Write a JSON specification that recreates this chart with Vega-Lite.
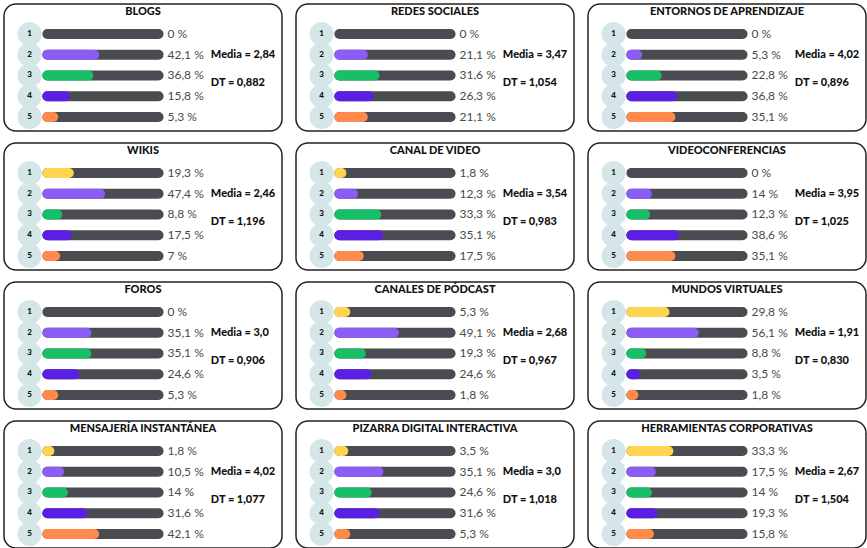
{
  "$schema": "https://vega.github.io/schema/vega-lite/v6.json",
  "padding": {"left": 3, "top": 3, "right": 0, "bottom": 0},
  "background": "white",
  "config": {
    "view": {"stroke": "#222222", "strokeWidth": 1.5, "cornerRadius": 12},
    "font": "Lato",
    "headerFacet": {"labels": false, "title": null, "labelPadding": 0, "titlePadding": 0, "labelExpr": "''", "labelFontSize": 0}
  },
  "spacing": {"row": 10, "column": 12},
  "columns": 3,
  "data": {"values": [
    {"p":"BLOGS","c":1,"v":0,"l":"0 %","m":"Media = 2,84","d":"DT = 0,882"},
    {"p":"BLOGS","c":2,"v":42.1,"l":"42,1 %","m":"Media = 2,84","d":"DT = 0,882"},
    {"p":"BLOGS","c":3,"v":36.8,"l":"36,8 %","m":"Media = 2,84","d":"DT = 0,882"},
    {"p":"BLOGS","c":4,"v":15.8,"l":"15,8 %","m":"Media = 2,84","d":"DT = 0,882"},
    {"p":"BLOGS","c":5,"v":5.3,"l":"5,3 %","m":"Media = 2,84","d":"DT = 0,882"},
    {"p":"REDES SOCIALES","c":1,"v":0,"l":"0 %","m":"Media = 3,47","d":"DT = 1,054"},
    {"p":"REDES SOCIALES","c":2,"v":21.1,"l":"21,1 %","m":"Media = 3,47","d":"DT = 1,054"},
    {"p":"REDES SOCIALES","c":3,"v":31.6,"l":"31,6 %","m":"Media = 3,47","d":"DT = 1,054"},
    {"p":"REDES SOCIALES","c":4,"v":26.3,"l":"26,3 %","m":"Media = 3,47","d":"DT = 1,054"},
    {"p":"REDES SOCIALES","c":5,"v":21.1,"l":"21,1 %","m":"Media = 3,47","d":"DT = 1,054"},
    {"p":"ENTORNOS DE APRENDIZAJE","c":1,"v":0,"l":"0 %","m":"Media = 4,02","d":"DT = 0,896"},
    {"p":"ENTORNOS DE APRENDIZAJE","c":2,"v":5.3,"l":"5,3 %","m":"Media = 4,02","d":"DT = 0,896"},
    {"p":"ENTORNOS DE APRENDIZAJE","c":3,"v":22.8,"l":"22,8 %","m":"Media = 4,02","d":"DT = 0,896"},
    {"p":"ENTORNOS DE APRENDIZAJE","c":4,"v":36.8,"l":"36,8 %","m":"Media = 4,02","d":"DT = 0,896"},
    {"p":"ENTORNOS DE APRENDIZAJE","c":5,"v":35.1,"l":"35,1 %","m":"Media = 4,02","d":"DT = 0,896"},
    {"p":"WIKIS","c":1,"v":19.3,"l":"19,3 %","m":"Media = 2,46","d":"DT = 1,196"},
    {"p":"WIKIS","c":2,"v":47.4,"l":"47,4 %","m":"Media = 2,46","d":"DT = 1,196"},
    {"p":"WIKIS","c":3,"v":8.8,"l":"8,8 %","m":"Media = 2,46","d":"DT = 1,196"},
    {"p":"WIKIS","c":4,"v":17.5,"l":"17,5 %","m":"Media = 2,46","d":"DT = 1,196"},
    {"p":"WIKIS","c":5,"v":7,"l":"7 %","m":"Media = 2,46","d":"DT = 1,196"},
    {"p":"CANAL DE VIDEO","c":1,"v":1.8,"l":"1,8 %","m":"Media = 3,54","d":"DT = 0,983"},
    {"p":"CANAL DE VIDEO","c":2,"v":12.3,"l":"12,3 %","m":"Media = 3,54","d":"DT = 0,983"},
    {"p":"CANAL DE VIDEO","c":3,"v":33.3,"l":"33,3 %","m":"Media = 3,54","d":"DT = 0,983"},
    {"p":"CANAL DE VIDEO","c":4,"v":35.1,"l":"35,1 %","m":"Media = 3,54","d":"DT = 0,983"},
    {"p":"CANAL DE VIDEO","c":5,"v":17.5,"l":"17,5 %","m":"Media = 3,54","d":"DT = 0,983"},
    {"p":"VIDEOCONFERENCIAS","c":1,"v":0,"l":"0 %","m":"Media = 3,95","d":"DT = 1,025"},
    {"p":"VIDEOCONFERENCIAS","c":2,"v":14,"l":"14 %","m":"Media = 3,95","d":"DT = 1,025"},
    {"p":"VIDEOCONFERENCIAS","c":3,"v":12.3,"l":"12,3 %","m":"Media = 3,95","d":"DT = 1,025"},
    {"p":"VIDEOCONFERENCIAS","c":4,"v":38.6,"l":"38,6 %","m":"Media = 3,95","d":"DT = 1,025"},
    {"p":"VIDEOCONFERENCIAS","c":5,"v":35.1,"l":"35,1 %","m":"Media = 3,95","d":"DT = 1,025"},
    {"p":"FOROS","c":1,"v":0,"l":"0 %","m":"Media = 3,0","d":"DT = 0,906"},
    {"p":"FOROS","c":2,"v":35.1,"l":"35,1 %","m":"Media = 3,0","d":"DT = 0,906"},
    {"p":"FOROS","c":3,"v":35.1,"l":"35,1 %","m":"Media = 3,0","d":"DT = 0,906"},
    {"p":"FOROS","c":4,"v":24.6,"l":"24,6 %","m":"Media = 3,0","d":"DT = 0,906"},
    {"p":"FOROS","c":5,"v":5.3,"l":"5,3 %","m":"Media = 3,0","d":"DT = 0,906"},
    {"p":"CANALES DE PÓDCAST","c":1,"v":5.3,"l":"5,3 %","m":"Media = 2,68","d":"DT = 0,967"},
    {"p":"CANALES DE PÓDCAST","c":2,"v":49.1,"l":"49,1 %","m":"Media = 2,68","d":"DT = 0,967"},
    {"p":"CANALES DE PÓDCAST","c":3,"v":19.3,"l":"19,3 %","m":"Media = 2,68","d":"DT = 0,967"},
    {"p":"CANALES DE PÓDCAST","c":4,"v":24.6,"l":"24,6 %","m":"Media = 2,68","d":"DT = 0,967"},
    {"p":"CANALES DE PÓDCAST","c":5,"v":1.8,"l":"1,8 %","m":"Media = 2,68","d":"DT = 0,967"},
    {"p":"MUNDOS VIRTUALES","c":1,"v":29.8,"l":"29,8 %","m":"Media = 1,91","d":"DT = 0,830"},
    {"p":"MUNDOS VIRTUALES","c":2,"v":56.1,"l":"56,1 %","m":"Media = 1,91","d":"DT = 0,830"},
    {"p":"MUNDOS VIRTUALES","c":3,"v":8.8,"l":"8,8 %","m":"Media = 1,91","d":"DT = 0,830"},
    {"p":"MUNDOS VIRTUALES","c":4,"v":3.5,"l":"3,5 %","m":"Media = 1,91","d":"DT = 0,830"},
    {"p":"MUNDOS VIRTUALES","c":5,"v":1.8,"l":"1,8 %","m":"Media = 1,91","d":"DT = 0,830"},
    {"p":"MENSAJERÍA INSTANTÁNEA","c":1,"v":1.8,"l":"1,8 %","m":"Media = 4,02","d":"DT = 1,077"},
    {"p":"MENSAJERÍA INSTANTÁNEA","c":2,"v":10.5,"l":"10,5 %","m":"Media = 4,02","d":"DT = 1,077"},
    {"p":"MENSAJERÍA INSTANTÁNEA","c":3,"v":14,"l":"14 %","m":"Media = 4,02","d":"DT = 1,077"},
    {"p":"MENSAJERÍA INSTANTÁNEA","c":4,"v":31.6,"l":"31,6 %","m":"Media = 4,02","d":"DT = 1,077"},
    {"p":"MENSAJERÍA INSTANTÁNEA","c":5,"v":42.1,"l":"42,1 %","m":"Media = 4,02","d":"DT = 1,077"},
    {"p":"PIZARRA DIGITAL INTERACTIVA","c":1,"v":3.5,"l":"3,5 %","m":"Media = 3,0","d":"DT = 1,018"},
    {"p":"PIZARRA DIGITAL INTERACTIVA","c":2,"v":35.1,"l":"35,1 %","m":"Media = 3,0","d":"DT = 1,018"},
    {"p":"PIZARRA DIGITAL INTERACTIVA","c":3,"v":24.6,"l":"24,6 %","m":"Media = 3,0","d":"DT = 1,018"},
    {"p":"PIZARRA DIGITAL INTERACTIVA","c":4,"v":31.6,"l":"31,6 %","m":"Media = 3,0","d":"DT = 1,018"},
    {"p":"PIZARRA DIGITAL INTERACTIVA","c":5,"v":5.3,"l":"5,3 %","m":"Media = 3,0","d":"DT = 1,018"},
    {"p":"HERRAMIENTAS CORPORATIVAS","c":1,"v":33.3,"l":"33,3 %","m":"Media = 2,67","d":"DT = 1,504"},
    {"p":"HERRAMIENTAS CORPORATIVAS","c":2,"v":17.5,"l":"17,5 %","m":"Media = 2,67","d":"DT = 1,504"},
    {"p":"HERRAMIENTAS CORPORATIVAS","c":3,"v":14,"l":"14 %","m":"Media = 2,67","d":"DT = 1,504"},
    {"p":"HERRAMIENTAS CORPORATIVAS","c":4,"v":19.3,"l":"19,3 %","m":"Media = 2,67","d":"DT = 1,504"},
    {"p":"HERRAMIENTAS CORPORATIVAS","c":5,"v":15.8,"l":"15,8 %","m":"Media = 2,67","d":"DT = 1,504"}
  ]},
  "facet": {
    "field": "p",
    "type": "nominal",
    "sort": ["BLOGS","REDES SOCIALES","ENTORNOS DE APRENDIZAJE","WIKIS","CANAL DE VIDEO","VIDEOCONFERENCIAS","FOROS","CANALES DE PÓDCAST","MUNDOS VIRTUALES","MENSAJERÍA INSTANTÁNEA","PIZARRA DIGITAL INTERACTIVA","HERRAMIENTAS CORPORATIVAS"],
    "header": {"labels": false, "title": null, "labelPadding": 0, "labelExpr": "''", "labelFontSize": 0}
  },
  "spec": {
    "width": 278,
    "height": 127,
    "layer": [
      {
        "mark": {"type": "point", "filled": true, "size": 580, "color": "#D5E6E8", "opacity": 1, "shape": "circle"},
        "encoding": {
          "x": {"datum": -16, "type": "quantitative", "scale": {"domain": [-39, 211], "zero": false, "nice": false}, "axis": null},
          "y": {"field": "c", "type": "quantitative", "scale": {"domain": [-0.45, 5.68], "reverse": true, "zero": false, "nice": false}, "axis": null}
        }
      },
      {
        "mark": {"type": "text", "font": "Lato", "fontWeight": 900, "fontSize": 8, "color": "#111111"},
        "encoding": {
          "x": {"datum": -16, "type": "quantitative"},
          "y": {"field": "c", "type": "quantitative"},
          "text": {"field": "c", "type": "nominal"}
        }
      },
      {
        "mark": {"type": "rule", "strokeWidth": 10, "strokeCap": "round", "color": "#4A4C51"},
        "encoding": {
          "x": {"datum": 0, "type": "quantitative"},
          "x2": {"datum": 100, "type": "quantitative"},
          "y": {"field": "c", "type": "quantitative"}
        }
      },
      {
        "transform": [{"filter": "datum.v > 0"}],
        "mark": {"type": "rule", "strokeWidth": 10, "strokeCap": "round"},
        "encoding": {
          "x": {"field": "v", "type": "quantitative"},
          "x2": {"datum": 0, "type": "quantitative"},
          "y": {"field": "c", "type": "quantitative"},
          "color": {"field": "c", "type": "nominal", "scale": {"domain": [1,2,3,4,5], "range": ["#FFD54F","#8B5CF6","#17BF69","#5A1FE3","#FF8A4C"]}, "legend": null}
        }
      },
      {
        "mark": {"type": "text", "align": "left", "font": "Lato", "fontSize": 12, "color": "#4A4A4A"},
        "encoding": {
          "x": {"datum": 108, "type": "quantitative"},
          "y": {"field": "c", "type": "quantitative"},
          "text": {"field": "l", "type": "nominal"}
        }
      },
      {
        "transform": [{"filter": "datum.c == 1"}],
        "mark": {"type": "text", "align": "center", "font": "Lato", "fontWeight": 900, "fontSize": 11, "color": "#111111"},
        "encoding": {
          "x": {"datum": 86, "type": "quantitative"},
          "y": {"datum": -0.08, "type": "quantitative"},
          "text": {"field": "p", "type": "nominal"}
        }
      },
      {
        "transform": [{"filter": "datum.c == 1"}],
        "mark": {"type": "text", "align": "left", "font": "Lato", "fontWeight": 900, "fontSize": 11, "color": "#111111"},
        "encoding": {
          "x": {"datum": 147, "type": "quantitative"},
          "y": {"datum": 2, "type": "quantitative"},
          "text": {"field": "m", "type": "nominal"}
        }
      },
      {
        "transform": [{"filter": "datum.c == 1"}],
        "mark": {"type": "text", "align": "left", "font": "Lato", "fontWeight": 900, "fontSize": 11, "color": "#111111"},
        "encoding": {
          "x": {"datum": 147, "type": "quantitative"},
          "y": {"datum": 3.35, "type": "quantitative"},
          "text": {"field": "d", "type": "nominal"}
        }
      }
    ]
  }
}
